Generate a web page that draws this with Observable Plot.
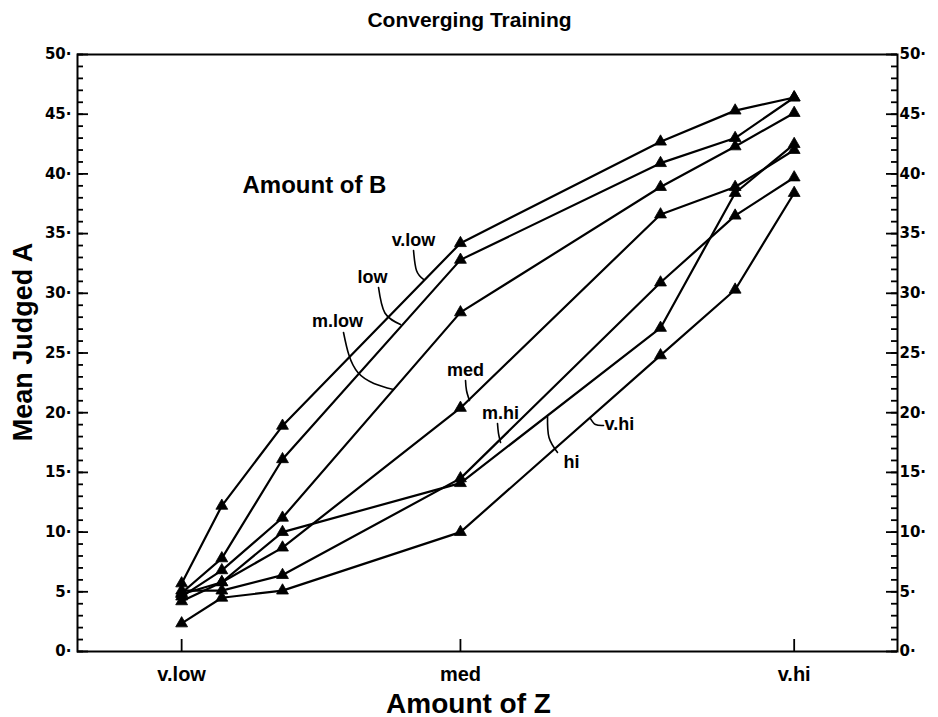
<!DOCTYPE html>
<html>
<head>
<meta charset="utf-8">
<script src="https://cdn.jsdelivr.net/npm/d3@7"></script>
<script src="https://cdn.jsdelivr.net/npm/@observablehq/plot@0.6"></script>
<style>
  html, body { margin: 0; padding: 0; background: #fff; }
  #chart svg { display: block; }
</style>
</head>
<body>
<div id="chart"></div>
<script>
// Levels of Z (x axis) and their positions on the Z axis
const zLevels = ["v.low", "low", "m.low", "med", "m.hi", "hi", "v.hi"];
const zPos = [12.7, 17.6, 25.0, 46.7, 71.1, 80.2, 87.4];
const zTickLevels = ["v.low", "med", "v.hi"];

// Levels of B (one curve each), Mean Judged A at each Z level
const bLevels = ["v.low", "low", "m.low", "med", "m.hi", "hi", "v.hi"];
const bVLow = [5.7, 12.2, 18.9, 34.2, 42.7, 45.3, 46.4];
const bLow  = [4.9, 7.8, 16.1, 32.8, 40.9, 43.0, 46.4];
const bMLow = [4.6, 6.8, 11.2, 28.4, 38.9, 42.3, 45.1];
const bMed  = [4.2, 5.8, 8.7, 20.4, 36.6, 38.9, 42.0];
const bMHi  = [5.1, 5.1, 6.4, 14.5, 30.9, 36.5, 39.7];
const bHi   = [4.8, 5.8, 10.0, 14.1, 27.1, 38.4, 42.5];
const bVHi  = [2.35, 4.5, 5.1, 10.0, 24.8, 30.3, 38.4];

// Y axis ticks
const yMajorTicks = [0, 5, 10, 15, 20, 25, 30, 35, 40, 45, 50];
const yMinorTicks = d3.range(0, 51);

// Curve labels (text) and where they sit, in data units
const curveLabelText = ["v.low", "low", "m.low", "med", "m.hi", "hi", "v.hi"];
const curveLabelX = [40.98, 35.98, 31.71, 47.32, 51.59, 60.24, 64.27];
const curveLabelY = [33.92, 30.90, 27.14, 23.10, 19.51, 15.33, 18.59];
const curveLabelAnchor = ["middle", "middle", "middle", "middle", "middle", "middle", "start"];
// Leader lines from labels to curves (three points each), data units
const leaderX = [
  [40.98, 41.34, 42.20],
  [36.71, 37.49, 39.39],
  [32.44, 34.22, 38.54],
  [47.32, 47.44, 47.80],
  [51.22, 51.34, 51.59],
  [58.54, 57.50, 57.32],
  [64.15, 63.17, 62.56]
];
const leaderY = [
  [33.58, 31.91, 31.16],
  [30.49, 28.35, 27.39],
  [26.72, 23.34, 21.94],
  [22.70, 21.86, 21.02],
  [19.10, 18.26, 17.50],
  [16.67, 17.92, 19.68],
  [18.93, 19.01, 19.51]
];

const legendTitle = "Amount of B";
const legendTitleX = 20.12, legendTitleY = 38.44;

// ---- build tables ----
const series = [bVLow, bLow, bMLow, bMed, bMHi, bHi, bVHi];
const rows = bLevels.flatMap((b, i) =>
  series[i].map((v, j) => ({b, z: zLevels[j], x: zPos[j], y: v}))
);
const labelRows = curveLabelText.map((t, i) => ({t, x: curveLabelX[i], y: curveLabelY[i], a: curveLabelAnchor[i]}));
const leaderRows = curveLabelText.flatMap((t, i) =>
  leaderX[i].map((x, k) => ({t, x, y: leaderY[i][k]}))
);
const zTickPos = zTickLevels.map(l => zPos[zLevels.indexOf(l)]);

const W = 938, H = 717;
const mL = 77, mR = 41, mT = 54, mB = 66;
const xDom = [0, 100], yDom = [0, 50];
const pxX = (xDom[1] - xDom[0]) / (W - mL - mR);
const pxY = (yDom[1] - yDom[0]) / (H - mT - mB);

const majLen = 11 * pxX, minLen = 6 * pxX, xTickLen = 12 * pxY;
const fontMain = "'Liberation Sans', Arial, Helvetica, sans-serif";
const fontTicks = "'DejaVu Sans', 'Liberation Sans', sans-serif";
const labelStyle = {x: "x", y: "y", text: "t", lineAnchor: "bottom", fontSize: 18, fontWeight: "bold", fill: "#000"};

const chart = Plot.plot({
  width: W, height: H,
  marginLeft: mL, marginRight: mR, marginTop: mT, marginBottom: mB,
  x: {domain: xDom, label: null},
  y: {domain: yDom, label: null},
  style: {fontFamily: fontMain, background: "#fff", color: "#000"},
  marks: [
    Plot.frame({stroke: "#000", strokeWidth: 2}),
    // inward ticks, left
    Plot.ruleY(yMinorTicks, {y: d => d, x1: xDom[0], x2: xDom[0] + minLen, stroke: "#000", strokeWidth: 1.8}),
    Plot.ruleY(yMajorTicks, {y: d => d, x1: xDom[0], x2: xDom[0] + majLen, stroke: "#000", strokeWidth: 1.8}),
    // inward ticks, right
    Plot.ruleY(yMinorTicks, {y: d => d, x1: xDom[1] - minLen, x2: xDom[1], stroke: "#000", strokeWidth: 1.8}),
    Plot.ruleY(yMajorTicks, {y: d => d, x1: xDom[1] - majLen, x2: xDom[1], stroke: "#000", strokeWidth: 1.8}),
    // x ticks inward
    Plot.ruleX(zTickPos, {x: d => d, y1: yDom[0], y2: yDom[0] + xTickLen, stroke: "#000", strokeWidth: 1.8}),
    Plot.axisY(yMajorTicks, {anchor: "left", tickSize: 0, tickPadding: 6, label: null,
      tickFormat: d => `${d}\u00b7`, fontSize: 15, fontWeight: "bold", fontFamily: fontTicks}),
    Plot.axisY(yMajorTicks, {anchor: "right", tickSize: 0, tickPadding: 2, label: null,
      tickFormat: d => `${d}\u00b7`, fontSize: 15, fontWeight: "bold", fontFamily: fontTicks}),
    Plot.axisX(zTickPos, {anchor: "bottom", tickSize: 0, tickPadding: 15, label: null,
      tickFormat: d => zLevels[zPos.indexOf(d)], fontSize: 20, fontWeight: "bold"}),
    // data
    Plot.line(rows, {x: "x", y: "y", z: "b", stroke: "#000", strokeWidth: 2.2}),
    Plot.dot(rows, {x: "x", y: "y", symbol: "triangle", fill: "#000", stroke: "#000", strokeWidth: 0.8, r: 4.4}),
    // annotations
    Plot.line(leaderRows, {x: "x", y: "y", z: "t", curve: "natural", stroke: "#000", strokeWidth: 1.6}),
    Plot.text(labelRows.filter(d => d.a === "middle"), {...labelStyle, textAnchor: "middle"}),
    Plot.text(labelRows.filter(d => d.a === "start"), {...labelStyle, textAnchor: "start"}),
    Plot.text([legendTitle], {x: legendTitleX, y: legendTitleY, text: d => d, textAnchor: "start", lineAnchor: "bottom",
      fontSize: 24, fontWeight: "bold", fill: "#000"}),
    // titles
    Plot.text(["Converging Training"], {frameAnchor: "top", text: d => d, textAnchor: "middle", dx: -18, dy: -34,
      lineAnchor: "middle", fontSize: 21, fontWeight: "bold", fill: "#000"}),
    Plot.text(["Amount of Z"], {frameAnchor: "bottom", text: d => d, textAnchor: "middle", dx: -19, dy: 61,
      lineAnchor: "bottom", fontSize: 28, fontWeight: "bold", fill: "#000"}),
    Plot.text(["Mean Judged A"], {frameAnchor: "left", text: d => d, textAnchor: "middle", rotate: -90, dx: -46, dy: -11,
      lineAnchor: "bottom", fontSize: 27, fontWeight: "bold", fill: "#000"})
  ]
});
document.getElementById("chart").appendChild(chart);
</script>
</body>
</html>
